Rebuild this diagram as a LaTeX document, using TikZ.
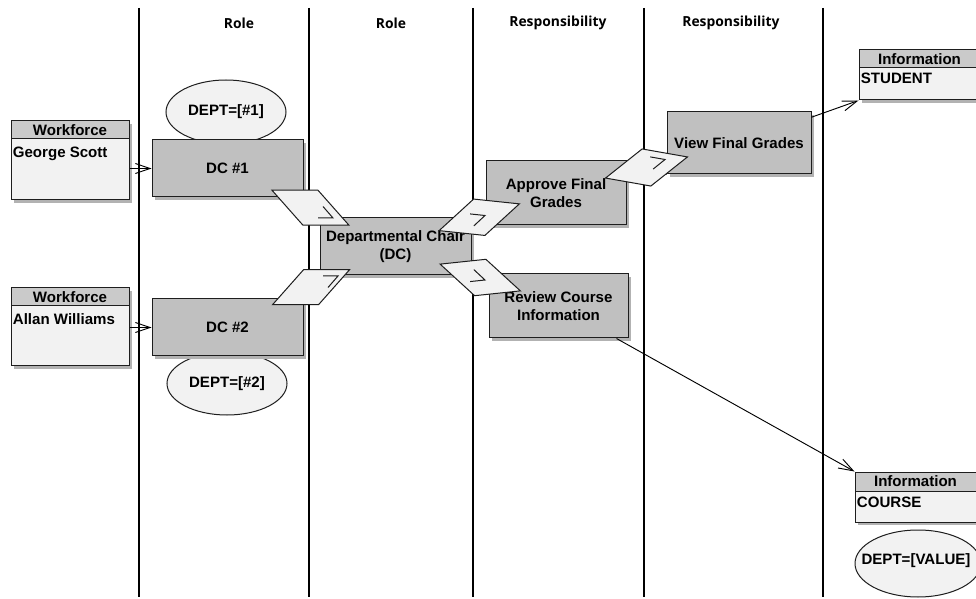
\documentclass[tikz,border=0pt]{standalone}
\usepackage{fontspec}
\setmainfont{Liberation Sans}
\newfontfamily\lanefont{Open Sans}
\usetikzlibrary{arrows.meta,shadows,shapes.geometric}

\definecolor{actfill}{RGB}{192,192,192}
\definecolor{headfill}{RGB}{202,202,202}
\definecolor{paper}{RGB}{242,242,242}
\definecolor{edge}{RGB}{30,30,30}
\definecolor{shade}{RGB}{178,178,178}

\tikzset{
  size/.style 2 args={minimum width=#1*0.75pt, minimum height=#2*0.75pt},
  shadowed/.style={drop shadow={shadow xshift=2.4pt, shadow yshift=-2.4pt,
      fill=shade, opacity=1}},
  lane/.style={line width=1.5pt, black},
  lanehead/.style={font=\lanefont\bfseries\fontsize{10.4}{12}\selectfont, inner sep=0pt},
  act/.style={draw=edge, line width=0.75pt, fill=actfill, shadowed,
      font=\bfseries\fontsize{11.3}{13.5}\selectfont, align=center, inner sep=0pt},
  cond/.style={ellipse, draw=edge, line width=0.75pt, fill=paper, inner sep=0pt},
  condtext/.style={font=\bfseries\fontsize{11.3}{13.5}\selectfont, inner sep=0pt},
  boxhead/.style={draw=edge, line width=0.75pt, fill=headfill, shadowed,
      font=\bfseries\fontsize{11.3}{13.5}\selectfont, inner sep=0pt},
  boxbody/.style={draw=edge, line width=0.75pt, fill=paper, shadowed, inner sep=0pt},
  boxtext/.style={anchor=north west, inner sep=1.6pt,
      font=\bfseries\fontsize{11.3}{13.5}\selectfont},
  flow/.style={draw=black, line width=0.7pt,
      -{Straight Barb[length=11pt, width=7.5pt, line width=0.7pt]}},
  link/.style={draw=black, line width=0.7pt},
  msgshape/.style={draw=edge, line width=0.75pt, fill=paper, line join=miter},
  msgmark/.style={draw=edge, line width=0.75pt},
  msg/.pic={
    \draw[msgshape] (-38.5,-17.5) -- (7.5,-17.5) -- (38.5,17.5) -- (-7.5,17.5) -- cycle;
  },
  mark/.pic={
    \draw[msgmark] (-15,0) -- (0,0) -- (-10,-11.5);
  },
}

\begin{document}
\begin{tikzpicture}[x=0.75pt, y=-0.75pt]
\useasboundingbox (0,0) rectangle (976,599);
\clip (0,0) rectangle (976,599);
\fill[white] (0,0) rectangle (976,599);

% swimlane separators
\foreach \x/\n in {138.5/a, 308.5/b, 473/c, 644/d, 823/e}
  \draw[lane] (\x,8) coordinate (top\n) -- (\x,597) coordinate (bot\n);

% lane titles
\node[lanehead] (t1) at (239,23) {Role};
\node[lanehead] (t2) at (391,23) {Role};
\node[lanehead] (t3) at (558,23) {Responsibility};
\node[lanehead] (t4) at (731,23) {Responsibility};

% conditions behind the role boxes
\node[cond, size={120}{64}] (c1) at (226,112) {};
\node[condtext] (c1t) at (c1) {DEPT=[\#1]};
\node[cond, size={120}{63}] (c2) at (227,383.5) {};
\node[condtext] (c2t) at (c2) {DEPT=[\#2]};

% role and responsibility boxes
\node[act, size={151}{57}] (dc1) at (227.5,168.5) {DC \#1};
\node[act, size={151}{57}] (dc2) at (227.5,327.5) {DC \#2};
\node[act, size={151}{57}] (chair) at (395.5,246.5) {Departmental Chair\\(DC)};
\node[act, size={140}{64}] (approve) at (556,193) {Approve Final\\Grades};
\node[act, size={144}{62}] (view) at (739,143) {View Final Grades};
\node[act, size={139}{64}] (review) at (558.5,306) {Review Course\\Information};

% workforce boxes
\node[boxhead, size={118}{18}] (wf1h) at (70,130) {Workforce};
\node[boxbody, size={118}{61}] (wf1b) at (70,169.5) {};
\node[boxtext, yshift=-4.6pt] (wf1t) at (wf1b.north west) {George Scott};
\node[boxhead, size={118}{18}] (wf2h) at (70,297) {Workforce};
\node[boxbody, size={118}{60}] (wf2b) at (70,336) {};
\node[boxtext, yshift=-4.6pt] (wf2t) at (wf2b.north west) {Allan Williams};

% information boxes
\node[boxhead, size={121}{18}] (i1h) at (919.5,59) {Information};
\node[boxbody, size={121}{32}] (i1b) at (919.5,84) {};
\node[boxtext, yshift=-2.2pt] (i1t) at (i1b.north west) {STUDENT};
\node[boxhead, size={121}{19}] (i2h) at (915.5,481.5) {Information};
\node[boxbody, size={121}{31}] (i2b) at (915.5,506.5) {};
\node[boxtext, yshift=-3.2pt] (i2t) at (i2b.north west) {COURSE};
\node[cond, size={126}{67}] (c3) at (918,563.5) {};
\node[condtext] (c3t) at (916,561) {DEPT=[VALUE]};

% assignments
\draw[flow] (wf1b.east |- dc1.center) -- (dc1.west);
\draw[flow] (wf2b.east |- dc2.center) -- (dc2.west);

% data access
\draw[flow] (view) -- (i1b.south west);
\draw[flow] (review) -- (i2h.north west);

% message links between boxes
\draw[link] (dc1.south east) -- (chair.north west);
\draw[link] (dc2.north east) -- (chair.south west);
\draw[link] (chair.north east) -- (approve.south west);
\draw[link] (chair.south east) -- (review.north west);
\draw[link] ([xshift=1.5pt]approve.north east) -- (view.south west);

% message symbols on the links
\pic at (310.5,207.75) {msg};
\pic at (333,218) {mark};
\pic[yscale=-1] at (311,287.25) {msg};
\pic[yscale=-1] at (338,276) {mark};
\pic[rotate=-6, yscale=-1] at (479.25,217.25) {msg};
\pic[rotate=-6, yscale=-1] at (485,215.5) {mark};
\pic[rotate=6] at (480.25,277.5) {msg};
\pic[rotate=6] at (485,280) {mark};
\pic[rotate=-10, yscale=-1] at (646.5,167.5) {msg};
\pic[rotate=-10, yscale=-1] at (665,159.5) {mark};
\end{tikzpicture}
\end{document}
